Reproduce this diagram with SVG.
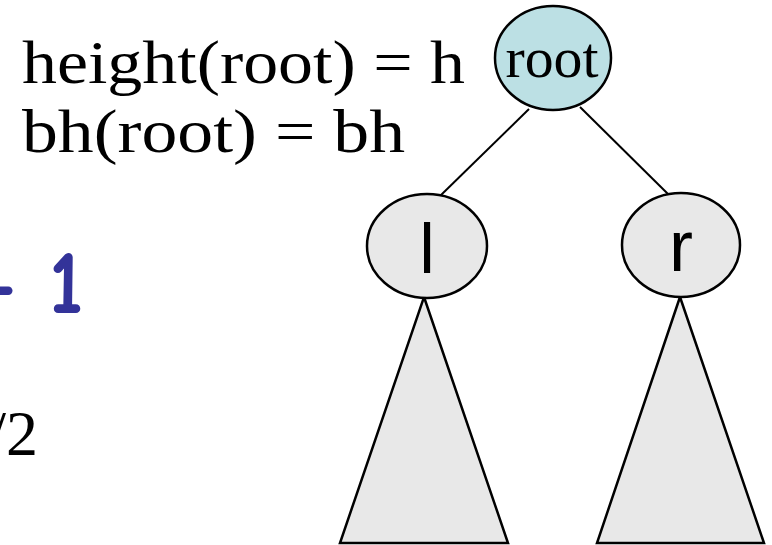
<svg xmlns="http://www.w3.org/2000/svg" width="772" height="545" viewBox="0 0 772 545">
<style>
.serif{font-family:"Liberation Serif","DejaVu Serif",serif;fill:#000}
.sans{font-family:"Liberation Sans","Arial",sans-serif;fill:#000}
.node{stroke:#000;stroke-width:2.5;fill:#e8e8e8}
.root{fill:#bce0e4}
.edge{stroke:#000;stroke-width:2;fill:none}
.tri{stroke:#000;stroke-width:2.5;fill:#e8e8e8;stroke-linejoin:miter}
.blue{font-family:"Comic Neue","Liberation Sans",sans-serif;font-weight:bold;fill:#333399}
</style>
<rect width="772" height="545" fill="#fff"/>
<text class="serif" x="22" y="83" font-size="62" textLength="443" lengthAdjust="spacingAndGlyphs">height(root) = h</text>
<text class="serif" x="22" y="152" font-size="62" textLength="383" lengthAdjust="spacingAndGlyphs">bh(root) = bh</text>
<text class="blue" x="84" y="313" font-size="90" text-anchor="end">- 1</text>
<text class="serif" x="38" y="455" font-size="64" text-anchor="end">/2</text>
<g id="connectors">
<line class="edge" x1="529" y1="109" x2="440" y2="196"/>
<line class="edge" x1="580" y1="107" x2="668" y2="194"/>
</g>
<g id="tri-left"><polygon class="tri" points="424,297 508,543 340,543"/></g>
<g id="tri-right"><polygon class="tri" points="680,297 764,543 597,543"/></g>
<g id="node-root">
<ellipse class="node root" cx="553" cy="58" rx="58" ry="52"/>
<text class="serif" x="552" y="77" font-size="56" text-anchor="middle" textLength="93" lengthAdjust="spacingAndGlyphs">root</text>
</g>
<g id="node-l">
<ellipse class="node" cx="427" cy="246" rx="60" ry="52"/>
<text class="sans" x="427" y="273" font-size="70" text-anchor="middle">l</text>
</g>
<g id="node-r">
<ellipse class="node" cx="681" cy="245" rx="59" ry="52"/>
<text class="sans" x="681" y="271" font-size="72" text-anchor="middle">r</text>
</g>
</svg>
